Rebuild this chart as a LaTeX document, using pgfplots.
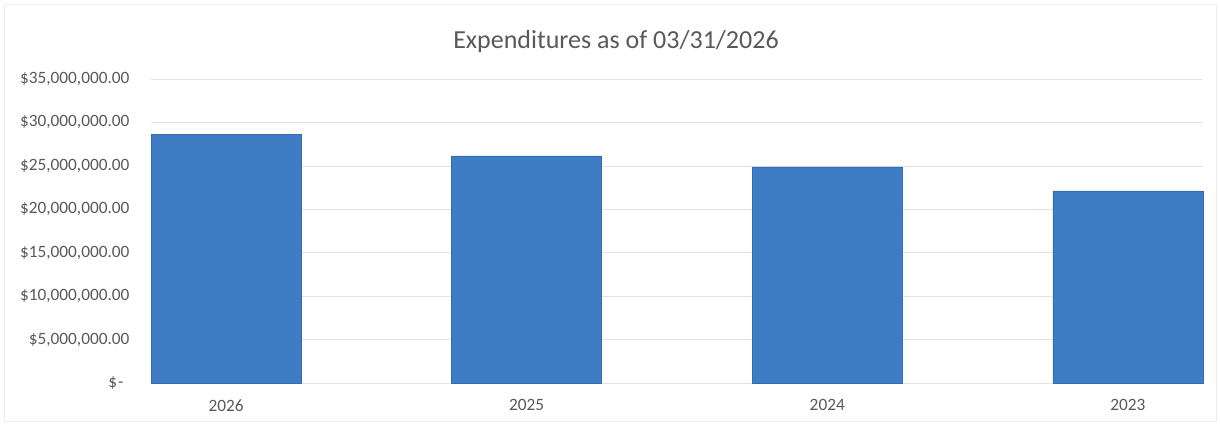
\documentclass[border=0pt]{standalone}
\usepackage{pgfplots}
\pgfplotsset{compat=1.18}
\usepackage{fontspec}
\setmainfont{Carlito}
\definecolor{barblue}{RGB}{62,124,196}
\definecolor{baredge}{RGB}{50,108,180}
\definecolor{txtgray}{RGB}{89,89,89}
\definecolor{gridgray}{RGB}{226,226,226}
\begin{document}
\begin{tikzpicture}[x=1pt,y=1pt]
\path[use as bounding box] (-151,-42) rectangle (1069,383);
\draw[gridgray!60, line width=0.6pt] (-147,-38) rectangle (1065,379);
\begin{axis}[
  at={(0,0)}, anchor=south west,
  scale only axis,
  width=1052pt, height=304pt,
  xmin=-0.25, xmax=3.25,
  ymin=0, ymax=35000000,
  axis x line*=bottom,
  axis y line*=left,
  y axis line style={draw=none},
  x axis line style={gridgray, line width=0.8pt},
  xtick={0,1,2,3},
  xticklabels={2026,2025,2024,2023},
  major tick length=0pt,
  ytick={0,5000000,10000000,15000000,20000000,25000000,30000000,35000000},
  yticklabels={{\$\kern1pt-\kern6pt},{\$5,000,000.00},{\$10,000,000.00},{\$15,000,000.00},{\$20,000,000.00},{\$25,000,000.00},{\$30,000,000.00},{\$35,000,000.00}},
  scaled y ticks=false,
  ymajorgrids,
  grid style={gridgray, line width=0.6pt},
  tick label style={font=\fontsize{17.3}{17.3}\selectfont, text=txtgray},
  yticklabel style={anchor=east, xshift=-18pt},
  xticklabel style={yshift=-13pt},
  ybar, bar width=150pt,
  clip=false,
]
\addplot[fill=barblue, draw=baredge, line width=0.6pt] coordinates {
  (0,28650000) (1,26150000) (2,24880000) (3,22120000)
};
\end{axis}
\node[text=txtgray, font=\fontsize{26}{26}\selectfont] at (465,341) {Expenditures as of 03/31/2026};
\end{tikzpicture}
\end{document}
